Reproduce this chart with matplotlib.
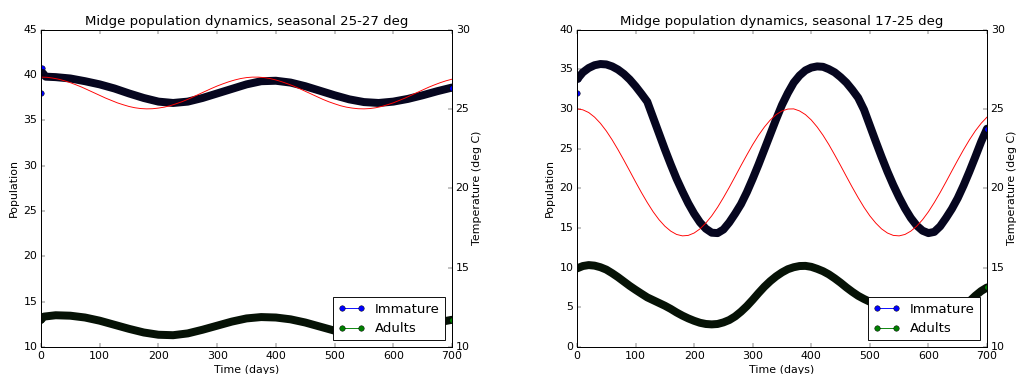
import matplotlib
matplotlib.use('Agg')
import matplotlib.pyplot as plt

# ---------------- data ----------------
# Left panel: seasonal 25-27 deg
left_imm_days = [0, 1, 3, 8, 25, 50, 75, 100, 125, 150, 175, 200, 225, 250, 275, 300,
                 325, 350, 375, 400, 425, 450, 475, 500, 525, 550, 575, 600, 625, 650, 675, 700]
left_immature = [38.0, 40.8, 40.2, 39.8, 39.75, 39.6, 39.3, 38.95, 38.5, 37.95, 37.45, 37.05,
                 36.9, 37.05, 37.45, 37.95, 38.45, 38.95, 39.3, 39.35, 39.15, 38.75, 38.25,
                 37.75, 37.3, 37.0, 36.9, 37.05, 37.35, 37.75, 38.2, 38.6]
left_adu_days = [0, 5, 25, 50, 75, 100, 125, 150, 175, 200, 225, 250, 275, 300, 325, 350,
                 375, 400, 425, 450, 475, 500, 525, 550, 575, 600, 625, 650, 675, 700]
left_adults = [13.0, 13.35, 13.5, 13.45, 13.25, 12.9, 12.45, 12.0, 11.6, 11.35, 11.3, 11.5,
               11.9, 12.35, 12.8, 13.15, 13.3, 13.25, 13.05, 12.7, 12.25, 11.8, 11.45, 11.3,
               11.35, 11.6, 11.95, 12.35, 12.7, 13.0]

temp_days = list(range(0, 701, 10))
left_temp = [27.00, 26.99, 26.94, 26.87, 26.77, 26.65, 26.51, 26.36, 26.19, 26.02, 25.85,
             25.68, 25.53, 25.38, 25.26, 25.15, 25.07, 25.02, 25.00, 25.01, 25.05, 25.11,
             25.20, 25.32, 25.45, 25.60, 25.77, 25.94, 26.11, 26.28, 26.44, 26.58, 26.71,
             26.82, 26.91, 26.97, 27.00, 27.00, 26.97, 26.91, 26.82, 26.71, 26.58, 26.44,
             26.28, 26.11, 25.94, 25.77, 25.60, 25.45, 25.32, 25.20, 25.11, 25.05, 25.01,
             25.00, 25.02, 25.07, 25.15, 25.26, 25.38, 25.53, 25.68, 25.85, 26.02, 26.19,
             26.36, 26.51, 26.65, 26.77, 26.87]

# Right panel: seasonal 17-25 deg
right_imm_days = [0, 1] + list(range(10, 701, 10))
right_immature = [32.0, 33.8,
                  34.6, 35.15, 35.5, 35.65, 35.6, 35.35, 34.95, 34.4, 33.7, 32.85,
                  31.9, 30.9, 28.9, 26.9, 24.9, 23.0, 21.2, 19.6, 18.1, 16.8,
                  15.7, 14.9, 14.4, 14.35, 14.8, 15.7, 16.8, 18.0, 19.5, 21.2,
                  23.0, 24.9, 26.8, 28.7, 30.5, 32.0, 33.3, 34.2, 34.85, 35.2,
                  35.35, 35.3, 35.0, 34.6, 34.0, 33.3, 32.4, 31.4, 29.9, 27.9,
                  25.9, 23.95, 22.1, 20.4, 18.85, 17.45, 16.25, 15.3, 14.65, 14.35,
                  14.5, 15.2, 16.25, 17.4, 18.75, 20.35, 22.1, 23.95, 25.85, 27.5]
right_adu_days = list(range(0, 701, 10))
right_adults = [9.9, 10.2, 10.32, 10.25, 10.05, 9.75, 9.3, 8.8, 8.25, 7.7, 7.2,
                6.72, 6.25, 5.9, 5.55, 5.2, 4.8, 4.35, 3.95, 3.6, 3.3,
                3.05, 2.9, 2.85, 2.9, 3.1, 3.4, 3.85, 4.45, 5.15, 5.95,
                6.8, 7.6, 8.3, 8.9, 9.4, 9.8, 10.05, 10.2, 10.22, 10.1,
                9.85, 9.55, 9.15, 8.65, 8.1, 7.5, 6.95, 6.45, 6.05, 5.7,
                5.35, 5.0, 4.6, 4.2, 3.8, 3.45, 3.15, 2.95, 2.85, 2.85,
                2.95, 3.15, 3.45, 3.9, 4.45, 5.05, 5.75, 6.45, 7.05, 7.5]
right_temp = [25.00, 24.94, 24.77, 24.48, 24.09, 23.61, 23.05, 22.43, 21.77, 21.09, 20.40,
              19.73, 19.10, 18.52, 18.02, 17.61, 17.30, 17.09, 17.00, 17.03, 17.18, 17.44,
              17.81, 18.26, 18.80, 19.41, 20.06, 20.74, 21.43, 22.10, 22.75, 23.34, 23.86,
              24.30, 24.64, 24.87, 24.99, 25.00, 24.87, 24.64, 24.30, 23.86, 23.34, 22.75,
              22.10, 21.43, 20.74, 20.06, 19.41, 18.80, 18.26, 17.81, 17.44, 17.18, 17.03,
              17.00, 17.09, 17.30, 17.61, 18.02, 18.52, 19.10, 19.73, 20.40, 21.09, 21.77,
              22.43, 23.05, 23.61, 24.09, 24.48]

titles = ['Midge population dynamics, seasonal 25-27 deg',
          'Midge population dynamics, seasonal 17-25 deg']
series_labels = ['Immature', 'Adults']
x_ticks = [0, 100, 200, 300, 400, 500, 600, 700]
left_yticks = [10, 15, 20, 25, 30, 35, 40, 45]
right_yticks = [0, 5, 10, 15, 20, 25, 30, 35, 40]
temp_ticks = [10, 15, 20, 25, 30]

# ---------------- style ----------------
plt.style.use('classic')
plt.rcParams['font.family'] = ['DejaVu Sans']
plt.rcParams['figure.facecolor'] = 'white'
plt.rcParams['savefig.facecolor'] = 'white'

DPI = 66
fig = plt.figure(figsize=(1016 / DPI, 374 / DPI), dpi=DPI)

W, H = 1016.0, 374.0
bottom = 1 - 347 / H
height = (347 - 29.5) / H
BAND_LW = 8.7


def panel(x0, x1, title, di, imm, i_band, da, adu, a_band, temp, ylim, yticks):
    ax = fig.add_axes([x0 / W, bottom, (x1 - x0) / W, height])
    ax.plot(di, imm, 'o-', color='b', mec='k', mew=0.5, markevery=[0, 1],
            label=series_labels[0], zorder=2)
    ax.plot(da, adu, 'o-', color='g', mec='k', mew=0.5, markevery=[0],
            label=series_labels[1], zorder=2)
    ax.plot(di[i_band:], imm[i_band:], '-', color='#06061f', lw=BAND_LW,
            solid_capstyle='round', solid_joinstyle='round', zorder=2.1)
    ax.plot(da[a_band:], adu[a_band:], '-', color='#061206', lw=BAND_LW,
            solid_capstyle='round', solid_joinstyle='round', zorder=2.1)
    ax.plot(di[-1:], imm[-1:], 'o', color='b', mec='k', mew=0.5, zorder=2.2)
    ax.plot(da[-1:], adu[-1:], 'o', color='g', mec='k', mew=0.5, zorder=2.2)
    ax.set_xlim(0, 700)
    ax.set_ylim(*ylim)
    ax.set_xticks(x_ticks)
    ax.set_yticks(yticks)
    ax.set_xlabel('Time (days)')
    ax.set_ylabel('Population')
    ax.set_title(title)
    ax.legend(loc='lower right')

    ax2 = ax.twinx()
    ax2.plot(temp_days, temp, 'r-')
    ax2.set_ylim(10, 30)
    ax2.set_yticks(temp_ticks)
    ax2.set_xlim(0, 700)
    ax2.set_ylabel('Temperature (deg C)', labelpad=3)
    return ax, ax2


panel(41, 452, titles[0], left_imm_days, left_immature, 2, left_adu_days, left_adults, 0,
      left_temp, (10, 45), left_yticks)
panel(577, 987, titles[1], right_imm_days, right_immature, 1, right_adu_days, right_adults, 0,
      right_temp, (0, 40), right_yticks)

fig.savefig('out.png', dpi=DPI)
